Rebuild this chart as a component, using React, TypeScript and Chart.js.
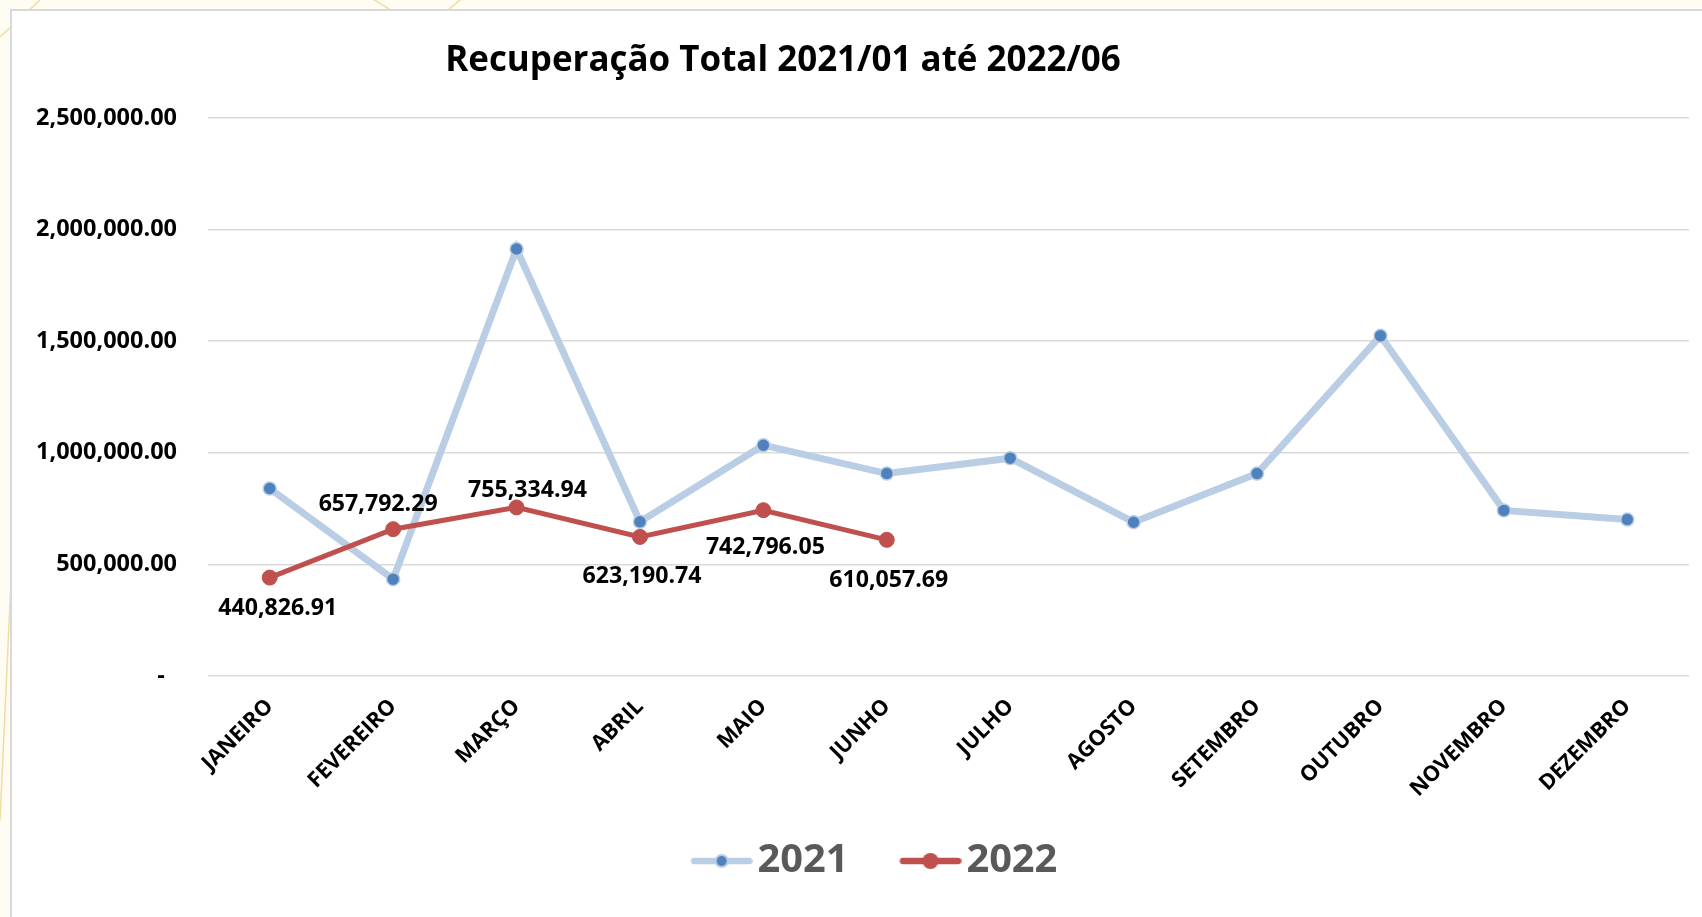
import React, { useEffect, useRef } from 'react';
import { Chart, registerables } from 'chart.js';

Chart.register(...registerables);

// ---------- data ----------
const MONTHS = ['JANEIRO', 'FEVEREIRO', 'MARÇO', 'ABRIL', 'MAIO', 'JUNHO', 'JULHO', 'AGOSTO', 'SETEMBRO', 'OUTUBRO', 'NOVEMBRO', 'DEZEMBRO'];
const SERIES_NAMES = ['2021', '2022'];
const VALUES_2021 = [840000, 434000, 1913000, 691000, 1034000, 907000, 976000, 689000, 907000, 1524000, 742000, 701000];
const VALUES_2022 = [440826.91, 657792.29, 755334.94, 623190.74, 742796.05, 610057.69];
const Y_TICKS = [0, 500000, 1000000, 1500000, 2000000, 2500000];
const TITLE = 'Recuperação Total 2021/01 até 2022/06';
// label placement (pixels, relative to the point) for the 2022 value labels
const LABEL_OFFSETS = [[8, 29], [-15, -26], [11, -19], [2, 38], [2, 36], [2, 39]];

const FAMILY = '"Open Sans", Lato, sans-serif';

function fitSize(text: string, target: number): number {
  const ctx = document.createElement('canvas').getContext('2d')!;
  ctx.font = `bold 100px ${FAMILY}`;
  return (100 * target) / ctx.measureText(text).width;
}

function fmt(v: number): string {
  if (v === 0) return '-  ';
  return v.toLocaleString('en-US', { minimumFractionDigits: 2, maximumFractionDigits: 2 });
}

// legend marker: transparent lead-in of `lead` px, then a 62px line with a dot
function makeMarker(lead: number, line: string, fill: string, ring: string | null, r: number, ringW: number) {
  const c = document.createElement('canvas');
  c.width = 62 + lead;
  c.height = 20;
  const g = c.getContext('2d')!;
  g.strokeStyle = line;
  g.lineWidth = 6.5;
  g.lineCap = 'round';
  g.beginPath();
  g.moveTo(lead + 3.5, 10);
  g.lineTo(lead + 58.5, 10);
  g.stroke();
  g.beginPath();
  g.arc(lead + 31, 10, r, 0, Math.PI * 2);
  g.fillStyle = fill;
  g.fill();
  if (ring) {
    g.lineWidth = ringW;
    g.strokeStyle = ring;
    g.stroke();
  }
  return c;
}

export default function App() {
  const ref = useRef<HTMLCanvasElement | null>(null);

  useEffect(() => {
    document.body.style.margin = '0';
    const titleSize = fitSize(TITLE, 676);
    const yTickSize = fitSize('2,500,000.00', 141);
    const xTickSize = fitSize('NOVEMBRO', 127);
    const dlSize = fitSize('440,826.91', 119);
    const legSize = fitSize('2021', 91);

    const LEG_PAD = 22;
    const LEAD = 44;
    const legendTop = 861 - LEG_PAD - legSize / 2;
    const legendH = legSize + LEG_PAD + 10;
    const padBottom = 917 - (legendTop + legendH);
    const xAxisH = legendTop - 676;
    const PAD_LEFT = 30;

    const markers = [
      makeMarker(LEAD, '#B9CDE5', '#4F81BD', '#B9CDE5', 6, 2),
      makeMarker(LEAD, '#C0504D', '#C0504D', null, 8, 0),
    ];

    const titlePlugin = {
      id: 'customTitle',
      afterDraw(chart: any) {
        const ctx = chart.ctx;
        ctx.save();
        ctx.font = `bold ${titleSize}px ${FAMILY}`;
        ctx.fillStyle = '#000';
        ctx.textAlign = 'center';
        ctx.textBaseline = 'alphabetic';
        ctx.fillText(TITLE, 783, 71);
        ctx.restore();
      },
    };

    const labelPlugin = {
      id: 'valueLabels',
      afterDatasetsDraw(chart: any) {
        const ctx = chart.ctx;
        const meta = chart.getDatasetMeta(1);
        const ds = chart.data.datasets[1].data as number[];
        ctx.save();
        ctx.font = `bold ${dlSize}px ${FAMILY}`;
        ctx.fillStyle = '#000';
        ctx.textAlign = 'center';
        ctx.textBaseline = 'alphabetic';
        const capH = dlSize * 0.714;
        meta.data.forEach((el: any, i: number) => {
          const [dx, dy] = LABEL_OFFSETS[i] || [0, -20];
          ctx.fillText(fmt(ds[i]), el.x + dx, el.y + dy + capH / 2);
        });
        ctx.restore();
      },
    };

    const chart = new Chart(ref.current!, {
      type: 'line',
      data: {
        labels: MONTHS,
        datasets: [
          {
            label: SERIES_NAMES[0],
            data: VALUES_2021,
            borderColor: '#B9CDE5',
            borderWidth: 7,
            pointRadius: 6.5,
            pointBackgroundColor: '#4F81BD',
            pointBorderColor: '#B9CDE5',
            pointBorderWidth: 1.5,
            tension: 0,
            order: 1,
          },
          {
            label: SERIES_NAMES[1],
            data: VALUES_2022,
            borderColor: '#C0504D',
            borderWidth: 5,
            pointRadius: 7.5,
            pointBackgroundColor: '#C0504D',
            pointBorderColor: '#C0504D',
            pointBorderWidth: 1,
            tension: 0,
            order: 0,
          },
        ],
      },
      options: {
        responsive: false,
        animation: false,
        devicePixelRatio: 1,
        layout: { padding: { left: PAD_LEFT, right: 13, top: 118, bottom: padBottom } },
        scales: {
          x: {
            offset: true,
            grid: { display: false },
            border: { display: false },
            ticks: {
              autoSkip: false,
              minRotation: 45,
              maxRotation: 45,
              padding: 10,
              color: '#000',
              font: { family: FAMILY, weight: 'bold', size: xTickSize },
            },
            afterFit(scale: any) {
              scale.height = xAxisH;
            },
          },
          y: {
            min: 0,
            max: 2500000,
            grid: { color: '#D9D9D9', lineWidth: 1.6, drawTicks: false },
            border: { display: false },
            ticks: {
              padding: 31,
              color: '#000',
              font: { family: FAMILY, weight: 'bold', size: yTickSize },
              callback: (v: any) => fmt(Number(v)),
            },
            afterBuildTicks(scale: any) {
              scale.ticks = Y_TICKS.map((v) => ({ value: v }));
            },
            afterFit(scale: any) {
              scale.width = 208 - PAD_LEFT;
            },
          },
        },
        plugins: {
          title: { display: false },
          tooltip: { enabled: false },
          legend: {
            display: true,
            position: 'bottom',
            align: 'center',
            labels: {
              usePointStyle: true,
              pointStyleWidth: 32 + LEAD,
              padding: LEG_PAD,
              color: '#595959',
              font: { family: FAMILY, weight: 'bold', size: legSize },
              generateLabels: (c: any) =>
                (Chart.defaults.plugins.legend.labels.generateLabels as any)(c).map((l: any) => ({
                  ...l,
                  pointStyle: markers[l.datasetIndex],
                })),
              sort: (a: any, b: any) => a.datasetIndex - b.datasetIndex,
            },
          },
        },
      } as any,
      plugins: [titlePlugin, labelPlugin],
    });
    return () => chart.destroy();
  }, []);

  return (
    <div style={{ position: 'fixed', left: 0, top: 0, width: 1702, height: 917, background: '#FFFCF4', overflow: 'hidden' }}>
      <svg width={1702} height={917} style={{ position: 'absolute', left: 0, top: 0 }}>
        <g stroke="#F1DCA2" strokeWidth={1.5} fill="none">
          <line x1={0} y1={37} x2={40} y2={0} />
          <line x1={368} y1={-4} x2={420} y2={28} />
          <line x1={472} y1={-10} x2={430} y2={25} />
          <path d="M 12 560 Q 6 680 0 820" />
        </g>
      </svg>
      <div
        style={{
          position: 'absolute',
          left: 10,
          top: 9,
          width: 1720,
          height: 940,
          background: '#fff',
          border: '2px solid #D9D9D9',
          boxSizing: 'border-box',
        }}
      />
      <canvas ref={ref} width={1702} height={917} style={{ position: 'absolute', left: 0, top: 0, display: 'block' }} />
    </div>
  );
}
